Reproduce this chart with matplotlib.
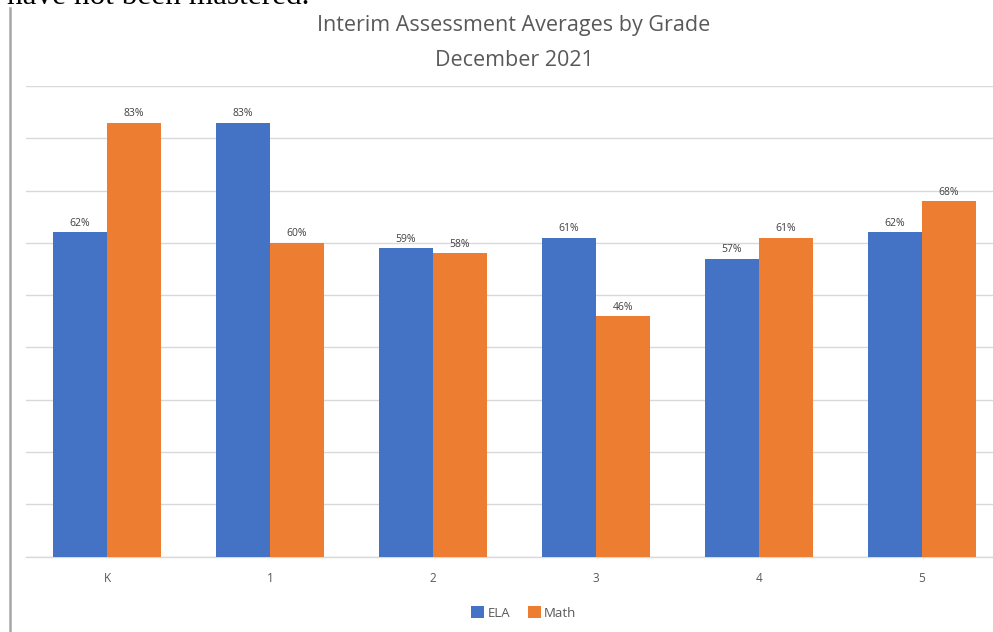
import matplotlib
matplotlib.use("Agg")
import matplotlib.pyplot as plt
import numpy as np
from matplotlib.lines import Line2D
from matplotlib.patches import Patch

grades = ["K", "1", "2", "3", "4", "5"]
ela = [62, 83, 59, 61, 57, 62]
math_vals = [83, 60, 58, 46, 61, 68]
series_names = ["ELA", "Math"]
colors = ["#4472C4", "#ED7D31"]
title_lines = ["Interim Assessment Averages by Grade", "December 2021"]
top_text = "have not been mastered."

W, H = 993, 632
fig = plt.figure(figsize=(W / 100, H / 100), dpi=100)
fig.patch.set_facecolor("white")

# axes geometry in pixels
left_px, base_px, top_px, width_px = 25.5, 556.5, 86.0, 978.0
ax = fig.add_axes([left_px / W, 1 - base_px / H, width_px / W, (base_px - top_px) / H])
ax.set_facecolor("none")

x = np.arange(len(grades))
bw = 0.331
b1 = ax.bar(x - bw / 2, ela, bw, color=colors[0], zorder=3)
b2 = ax.bar(x + bw / 2, math_vals, bw, color=colors[1], zorder=3)

for bars, vals in ((b1, ela), (b2, math_vals)):
    for rect, v in zip(bars, vals):
        ax.annotate(f"{v}%", (rect.get_x() + rect.get_width() / 2, v),
                    xytext=(0, 2.5), textcoords="offset points",
                    ha="center", va="bottom", fontsize=7.5, color="#404040",
                    family="Open Sans")

ax.set_xlim(-0.5, len(grades) - 0.5)
ax.set_ylim(0, 90)
ax.set_yticks(np.arange(0, 91, 10))
ax.set_yticklabels([])
ax.tick_params(axis="y", length=0)
ax.yaxis.grid(True, color="#D9D9D9", linewidth=1.0, zorder=0)
ax.set_xticks(x)
ax.set_xticklabels(grades, fontsize=8.5, color="#595959", family="Open Sans")
ax.tick_params(axis="x", length=0, pad=11)
for s in ["top", "right", "left"]:
    ax.spines[s].set_visible(False)
ax.spines["bottom"].set_color("#D9D9D9")
ax.spines["bottom"].set_linewidth(1.0)
ax.spines["bottom"].set_zorder(1)

# title
fig.text(514 / W, 1 - 31 / H, title_lines[0], ha="center", va="baseline",
         fontsize=15.5, color="#595959", family="Open Sans")
fig.text(514 / W, 1 - 66 / H, title_lines[1], ha="center", va="baseline",
         fontsize=15.5, color="#595959", family="Open Sans")

# partially visible surrounding document text
fig.text(7 / W, 1 - 3.5 / H, top_text, ha="left", va="baseline",
         fontsize=22.5, color="black", family="Liberation Serif")

# left vertical rule
fig.add_artist(Line2D([10 / W, 10 / W], [0, 1 - 8 / H], transform=fig.transFigure,
                      color="#A6A6A6", linewidth=1.8))

handles = [Patch(facecolor=c, edgecolor="none") for c in colors]
fig.legend(handles, series_names, loc="center", bbox_to_anchor=(524 / W, 1 - 613 / H),
           ncol=2, frameon=False, handlelength=0.95, handleheight=0.95,
           handletextpad=0.25, columnspacing=1.4, labelcolor="#595959",
           prop={"family": "Open Sans", "size": 9.5})

fig.savefig("out.png", dpi=100)
